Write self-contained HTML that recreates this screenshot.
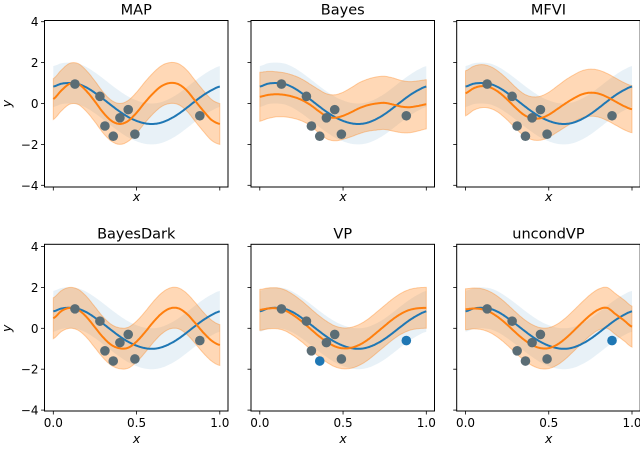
<!DOCTYPE html>
<html><head><meta charset="utf-8"><style>
body{margin:0;background:#fff}
svg{display:block;font-family:"DejaVu Sans","Liberation Sans",sans-serif}
</style></head><body>
<svg id="fig" width="640" height="450" viewBox="0 0 640 450" xmlns="http://www.w3.org/2000/svg"></svg>
<script>
const titles = ["MAP","Bayes","MFVI","BayesDark","VP","uncondVP"];
const gridX = [0,0.05,0.1,0.15,0.2,0.25,0.3,0.35,0.4,0.45,0.5,0.55,0.6,0.65,0.7,0.75,0.8,0.85,0.9,0.95,1.0];
const trueMean = [0.83,0.97,1.0,0.95,0.78,0.52,0.22,-0.1,-0.4,-0.66,-0.85,-0.97,-1.0,-0.93,-0.76,-0.52,-0.22,0.1,0.4,0.65,0.83];
const trueStd = 1.0;
const meanMAP = [0.22,0.65,0.97,0.95,0.6,0.1,-0.45,-0.85,-1.0,-0.85,-0.45,0.05,0.5,0.85,1.0,0.95,0.65,0.15,-0.35,-0.8,-1.0];
const meanBayes = [0.33,0.42,0.45,0.42,0.33,0.18,-0.05,-0.35,-0.62,-0.7,-0.6,-0.42,-0.22,-0.08,0.0,0.03,-0.05,-0.15,-0.18,-0.12,-0.04];
const meanMFVI = [0.5,0.75,0.85,0.78,0.55,0.2,-0.2,-0.55,-0.72,-0.72,-0.55,-0.28,0.0,0.25,0.45,0.53,0.48,0.32,0.1,-0.12,-0.28];
const meanBayesDark = [0.49,0.85,1.0,0.9,0.55,0.05,-0.45,-0.82,-0.98,-0.95,-0.65,-0.2,0.3,0.72,0.97,0.98,0.72,0.28,-0.2,-0.6,-0.82];
const meanVP = [0.9,0.97,0.98,0.88,0.65,0.35,0.0,-0.35,-0.65,-0.88,-0.98,-0.95,-0.8,-0.55,-0.22,0.12,0.45,0.72,0.9,0.98,1.0];
const meanUncondVP = [0.93,0.97,0.93,0.78,0.52,0.18,-0.2,-0.55,-0.82,-0.97,-0.97,-0.8,-0.5,-0.12,0.28,0.65,0.92,1.0,0.7,0.4,0.08];
const stdX = [0,0.1,0.2,0.3,0.4,0.5,0.6,0.7,0.8,0.9,1.0];
const stdMAP = [1,1,1,1,1,1,1,1,1,1,1];
const stdBayes = [1.2,1.1,1.05,1.0,1.1,1.15,1.25,1.3,1.3,1.25,1.2];
const stdMFVI = [1.1,1.05,1.0,1.0,1.05,1.1,1.15,1.15,1.15,1.15,1.15];
const stdOne = [1,1,1,1,1,1,1,1,1,1,1];
const pointX = [0.13,0.28,0.31,0.36,0.40,0.45,0.49,0.88];
const pointY = [0.95,0.35,-1.1,-1.6,-0.7,-0.3,-1.5,-0.6];
const heldVP = [3,7];
const heldUncond = [7];
const yTicks = [4,2,0,-2,-4];
const yTickLabels = ["4","2","0","\u22122","\u22124"];
const xTicks = [0,0.5,1.0];
const xTickLabels = ["0.0","0.5","1.0"];

const means = [meanMAP,meanBayes,meanMFVI,meanBayesDark,meanVP,meanUncondVP];
const stds = [stdMAP,stdBayes,stdMFVI,stdOne,stdOne,stdOne];
const helds = [[],[],[],[],heldVP,heldUncond];

const NS="http://www.w3.org/2000/svg";
const svg=document.getElementById('fig');
function mk(tag,attrs,parent){const e=document.createElementNS(NS,tag);for(const k in attrs)e.setAttribute(k,attrs[k]);(parent||svg).appendChild(e);return e;}
function interp(xs,ys,x){for(let i=0;i<xs.length-1;i++){if(x<=xs[i+1]){const t=(x-xs[i])/(xs[i+1]-xs[i]);return ys[i]+t*(ys[i+1]-ys[i]);}}return ys[ys.length-1];}
function crPts(xs,ys){
  const out=[];const n=xs.length;
  for(let i=0;i<n-1;i++){const p0=ys[Math.max(0,i-1)],p1=ys[i],p2=ys[i+1],p3=ys[Math.min(n-1,i+2)];
    for(let s=0;s<8;s++){const t=s/8;const t2=t*t,t3=t2*t;
      const v=0.5*((2*p1)+(-p0+p2)*t+(2*p0-5*p1+4*p2-p3)*t2+(-p0+3*p1-3*p2+p3)*t3);
      out.push([xs[i]+t*(xs[i+1]-xs[i]),v]);}}
  out.push([xs[n-1],ys[n-1]]);return out;}

const colLeft=[44.5,251,456.7], W=183.5;
const rowTop=[20.5,244.3], rowBot=[187,411], rowY0=[103.5,328.3];
const YS=20.45, XS=166.5;

for(let p=0;p<6;p++){
  const r=Math.floor(p/3), c=p%3;
  const L=colLeft[c], T=rowTop[r], B=rowBot[r];
  const X=v=>L+8.8+v*XS, Y=v=>rowY0[r]-v*YS;
  const g=mk('g',{});
  
  
  const t=mk('text',{x:L+W/2,y:T-6,'text-anchor':'middle','font-size':'14.5',fill:'#000'},g);
  t.textContent=titles[p];
  
  
  const tc=crPts(gridX,trueMean);
  let d='M'+tc.map(q=>X(q[0]).toFixed(1)+','+Y(q[1]+trueStd).toFixed(1)).join('L')+'L'+tc.slice().reverse().map(q=>X(q[0]).toFixed(1)+','+Y(q[1]-trueStd).toFixed(1)).join('L')+'Z';
  const tb=mk('path',{d:d,fill:'#1f77b4','fill-opacity':'0.1',stroke:'none'},g);
  
  
  const mc=crPts(gridX,means[p]);
  const up=mc.map(q=>[q[0],q[1]+interp(stdX,stds[p],q[0])]);
  const lo=mc.map(q=>[q[0],q[1]-interp(stdX,stds[p],q[0])]);
  d='M'+up.map(q=>X(q[0]).toFixed(1)+','+Y(q[1]).toFixed(1)).join('L')+'L'+lo.slice().reverse().map(q=>X(q[0]).toFixed(1)+','+Y(q[1]).toFixed(1)).join('L')+'Z';
  const mb=mk('path',{d:d,fill:'#ff7f0e','fill-opacity':'0.3',stroke:'#ff7f0e','stroke-opacity':'0.35','stroke-width':'1'},g);
  
  
  const tl=mk('path',{d:'M'+tc.map(q=>X(q[0]).toFixed(1)+','+Y(q[1]).toFixed(1)).join('L'),fill:'none',stroke:'#1f77b4','stroke-width':'2'},g);
  
  
  const ml=mk('path',{d:'M'+mc.map(q=>X(q[0]).toFixed(1)+','+Y(q[1]).toFixed(1)).join('L'),fill:'none',stroke:'#ff7f0e','stroke-width':'2'},g);
  
  
  for(let i=0;i<pointX.length;i++){
    const held=helds[p].indexOf(i)>=0;
    const ci=mk('circle',{cx:X(pointX[i]),cy:Y(pointY[i]),r:4.8,fill:held?'#1f77b4':'#5b6d75'},g);
    
    
  }
  const fr=mk('rect',{x:L,y:T,width:W,height:B-T,fill:'none',stroke:'#000','stroke-width':'1'},g);
  
  
  for(let i=0;i<yTicks.length;i++){
    mk('line',{x1:L-3.5,x2:L,y1:Y(yTicks[i]),y2:Y(yTicks[i]),stroke:'#000','stroke-width':'0.8'},g);
    if(c===0){const tx=mk('text',{x:L-6,y:Y(yTicks[i])+4.5,'text-anchor':'end','font-size':'12',fill:'#000'},g);tx.textContent=yTickLabels[i];
      
      }
  }
  for(let i=0;i<xTicks.length;i++){
    mk('line',{x1:X(xTicks[i]),x2:X(xTicks[i]),y1:B,y2:B+3.5,stroke:'#000','stroke-width':'0.8'},g);
    if(r===1){const tx=mk('text',{x:X(xTicks[i]),y:B+16,'text-anchor':'middle','font-size':'12',fill:'#000'},g);tx.textContent=xTickLabels[i];
      
      }
  }
  const xl=mk('text',{x:X(0.5),y:r===0?B+14:B+32,'text-anchor':'middle','font-size':'12.5','font-style':'italic',fill:'#000'},g);
  xl.textContent='x';
  
  
  if(c===0){const yl=mk('text',{x:0,y:0,transform:'translate(11,'+rowY0[r]+') rotate(-90)','text-anchor':'middle','font-size':'12.5','font-style':'italic',fill:'#000'},g);
    yl.textContent='y';
    
    }
}
</script>
</body></html>
